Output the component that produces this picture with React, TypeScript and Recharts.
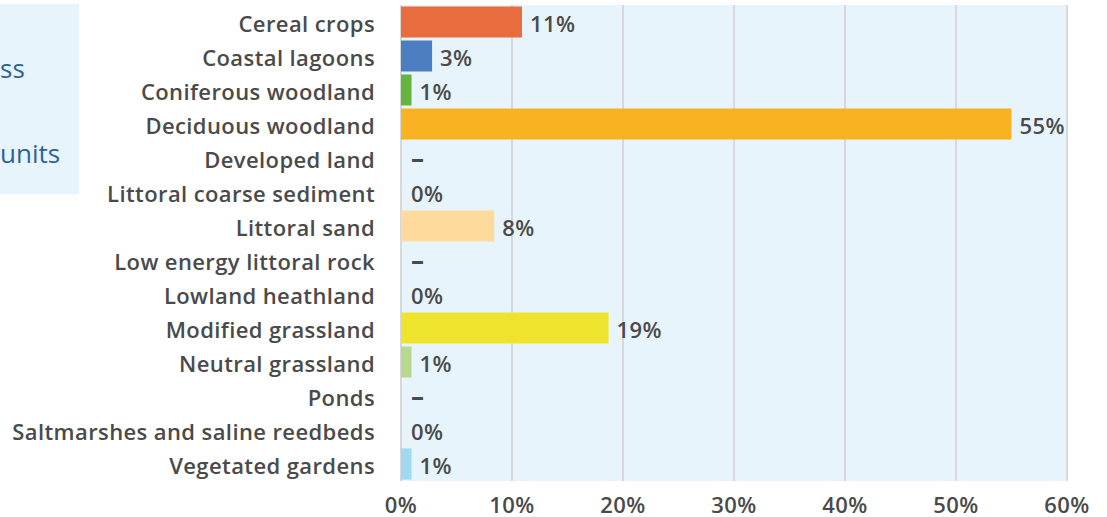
import React from "react";
import { BarChart, Bar, XAxis, YAxis, CartesianGrid, Cell, LabelList } from "recharts";

const categories = [
  "Cereal crops",
  "Coastal lagoons",
  "Coniferous woodland",
  "Deciduous woodland",
  "Developed land",
  "Littoral coarse sediment",
  "Littoral sand",
  "Low energy littoral rock",
  "Lowland heathland",
  "Modified grassland",
  "Neutral grassland",
  "Ponds",
  "Saltmarshes and saline reedbeds",
  "Vegetated gardens",
];

// percentage share; null = no data (shown as a dash)
const values: (number | null)[] = [10.9, 2.8, 0.95, 55.0, null, 0, 8.4, null, 0, 18.7, 0.95, null, 0, 0.95];

const colors = [
  "#E86C3D",
  "#4C7FC2",
  "#63B53F",
  "#F9B222",
  "transparent",
  "transparent",
  "#FEDB9C",
  "transparent",
  "transparent",
  "#EFE42D",
  "#B8D890",
  "transparent",
  "transparent",
  "#9FD8F1",
];

const xTicks = [0, 10, 20, 30, 40, 50, 60];

const data = categories.map((name, i) => ({
  name,
  value: values[i] ?? 0,
  label: values[i] === null ? "–" : `${Math.round(values[i] as number)}%`,
}));

const FONT = "'Open Sans', Lato, sans-serif";
const TEXT = "#4A4A4A";
const FS = 22;
const LS = 0.4;
const BASE = FS * 0.355 + 2;

const renderLabel = (props: any) => {
  const { x, y, width, height, value } = props;
  const tx = width < 2 ? x + 10 : x + width + 8;
  const isDash = value === "–";
  return (
    <text
      x={tx}
      y={y + height / 2 + BASE}
      textAnchor="start"
      fill={TEXT}
      fontFamily={FONT}
      fontWeight={isDash ? 700 : 600}
      fontSize={isDash ? FS + 4 : FS}
      letterSpacing={LS}
    >
      {value}
    </text>
  );
};

const YTick = (props: any) => {
  const { x, y, payload } = props;
  return (
    <text
      x={x}
      y={y + BASE}
      textAnchor="end"
      fill={TEXT}
      fontFamily={FONT}
      fontWeight={600}
      fontSize={FS}
      letterSpacing={LS}
    >
      {payload.value}
    </text>
  );
};

const XTick = (props: any) => {
  const { x, y, payload } = props;
  return (
    <text
      x={x}
      y={y + FS * 0.71}
      textAnchor="middle"
      fill={TEXT}
      fontFamily={FONT}
      fontWeight={600}
      fontSize={FS}
      letterSpacing={LS}
    >
      {`${payload.value}%`}
    </text>
  );
};

export default function App() {
  return (
    <div style={{ position: "fixed", left: 0, top: 0, width: 1107, height: 517, background: "#fff", overflow: "hidden" }}>
      <div
        style={{
          position: "absolute",
          left: 0,
          top: 4,
          width: 79,
          height: 190,
          background: "#E8F4FC",
          overflow: "hidden",
          color: "#2C6496",
          fontFamily: FONT,
          fontSize: 26,
        }}
      >
        <div style={{ position: "absolute", left: 0, top: 46, whiteSpace: "nowrap" }}>ss</div>
        <div style={{ position: "absolute", left: 0, top: 131, whiteSpace: "nowrap" }}>units</div>
      </div>
      <div style={{ position: "absolute", left: 0, top: 0 }}>
        <BarChart
          width={1107}
          height={517}
          data={data}
          layout="vertical"
          margin={{ top: 5, right: 40, bottom: 0, left: 0 }}
          barCategoryGap={1.5}
        >
          <CartesianGrid horizontal={false} vertical stroke="#D8D8D8" strokeWidth={2} fill="#E8F4FC" />
          <XAxis
            type="number"
            domain={[0, 60]}
            ticks={xTicks}
            axisLine={false}
            tickLine={false}
            tickMargin={10}
            height={36}
            interval={0}
            tick={<XTick />}
          />
          <YAxis
            type="category"
            dataKey="name"
            width={401}
            axisLine={false}
            tickLine={false}
            tickSize={0}
            tickMargin={26}
            interval={0}
            tick={<YTick />}
          />
          <Bar dataKey="value" isAnimationActive={false} minPointSize={1}>
            {data.map((d, i) => (
              <Cell key={d.name} fill={colors[i]} />
            ))}
            <LabelList dataKey="label" content={renderLabel} />
          </Bar>
        </BarChart>
      </div>
    </div>
  );
}
